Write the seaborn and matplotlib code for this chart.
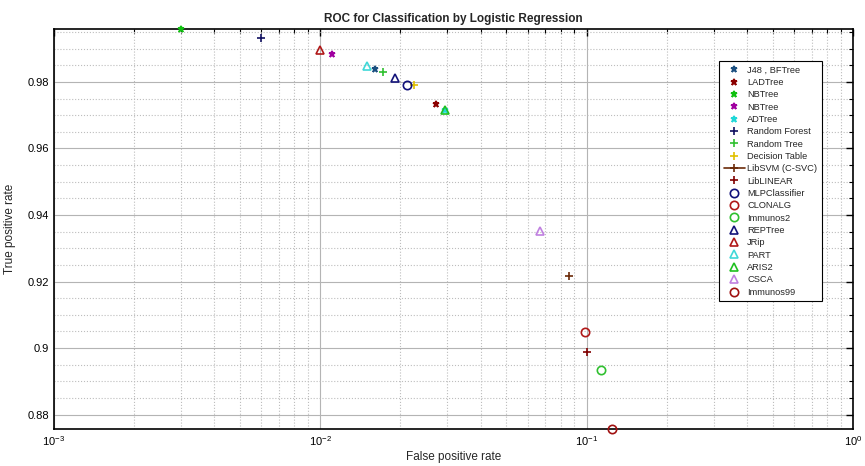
import numpy as np
import seaborn as sns
import matplotlib.pyplot as plt
from matplotlib.ticker import LogLocator, MultipleLocator, FormatStrFormatter

# classifiers and their (FPR, TPR)
names = ['J48 , BFTree', 'LADTree', 'NBTree', 'NBTree', 'ADTree', 'Random Forest',
         'Random Tree', 'Decision Table', 'LibSVM (C-SVC)', 'LibLINEAR', 'MLPClassifier',
         'CLONALG', 'Immunos2', 'REPTree', 'JRip', 'PART', 'ARIS2', 'CSCA', 'Immunos99']
fpr = [0.0160, 0.0272, 0.0030, 0.0111, 0.0294, 0.0060,
       0.0172, 0.0224, 0.0859, 0.1006, 0.0211,
       0.0986, 0.1130, 0.0190, 0.0100, 0.0150, 0.0294, 0.0670, 0.1242]
tpr = [0.9838, 0.9734, 0.9959, 0.9884, 0.9716, 0.9931,
       0.9829, 0.9791, 0.9217, 0.8987, 0.9791,
       0.9049, 0.8935, 0.9812, 0.9896, 0.9849, 0.9716, 0.9353, 0.8757]
markers = ['*', '*', '*', '*', '*', '+', '+', '+', '+', '+', 'o',
           'o', 'o', '^', '^', '^', '^', '^', 'o']
colors = ['#1b4f80', '#8b0000', '#10c010', '#a000a0', '#20d8d8', '#101060',
          '#30c030', '#e0c000', '#6b2a08', '#800000', '#10107a',
          '#b01818', '#30c030', '#14147a', '#b01818', '#40d8d8', '#20c020', '#c080e0', '#a01010']

sns.set_style('white')
plt.rcParams['font.family'] = ['Liberation Sans', 'DejaVu Sans']
plt.rcParams['mathtext.fontset'] = 'custom'
plt.rcParams['mathtext.rm'] = 'Liberation Sans'

fig = plt.figure(figsize=(8.65, 4.66), dpi=100)
ax = fig.add_axes([0.0624, 0.0794, 0.9237, 0.8584])

for i in range(len(names)):
    ls = '-' if names[i].startswith('LibSVM') else 'none'
    filled = markers[i] in ['*', '+']
    sns.lineplot(x=[fpr[i]], y=[tpr[i]], ax=ax, label=names[i],
                 marker=markers[i], linestyle=ls, color=colors[i],
                 markersize=6 if markers[i] != '*' else 5,
                 markerfacecolor=colors[i] if filled else 'none',
                 markeredgecolor=colors[i], markeredgewidth=1.2,
                 linewidth=1.2, clip_on=False, zorder=5)

ax.set_xscale('log')
ax.set_xlim(1e-3, 1)
ax.set_ylim(0.8757, 0.9959)
ax.xaxis.set_major_locator(LogLocator(base=10, numticks=10))
ax.xaxis.set_minor_locator(LogLocator(base=10, subs=np.arange(2, 10), numticks=20))
ax.yaxis.set_major_locator(MultipleLocator(0.02))
ax.yaxis.set_minor_locator(MultipleLocator(0.005))
ax.yaxis.set_major_formatter(FormatStrFormatter('%g'))

ax.grid(which='major', color='#b4b4b4', linestyle='-', linewidth=0.8)
ax.grid(which='minor', color='#bdbdbd', linestyle=':', linewidth=0.8)
ax.set_axisbelow(True)
ax.tick_params(which='both', direction='in', top=True, right=True, labelsize=8, colors='black')
ax.tick_params(which='major', length=5, width=1)
ax.tick_params(which='minor', length=3, width=0.8)
ax.tick_params(axis='x', pad=4)
for s in ax.spines.values():
    s.set_color('black')
    s.set_linewidth(1.2)

ax.set_title('ROC for Classification by Logistic Regression', fontsize=8.5, fontweight='bold', pad=5)
ax.set_xlabel('False positive rate', fontsize=8.5, labelpad=2)
ax.set_ylabel('True positive rate', fontsize=8.5, labelpad=8)

leg = ax.legend(loc='upper right', bbox_to_anchor=(0.967, 0.932), fontsize=6.7,
                frameon=True, fancybox=False, edgecolor='black', framealpha=1,
                handlelength=2.2, labelspacing=0.36, borderpad=0.5, handletextpad=0.3)
leg.get_frame().set_linewidth(0.8)

plt.savefig('out.png', dpi=100)
